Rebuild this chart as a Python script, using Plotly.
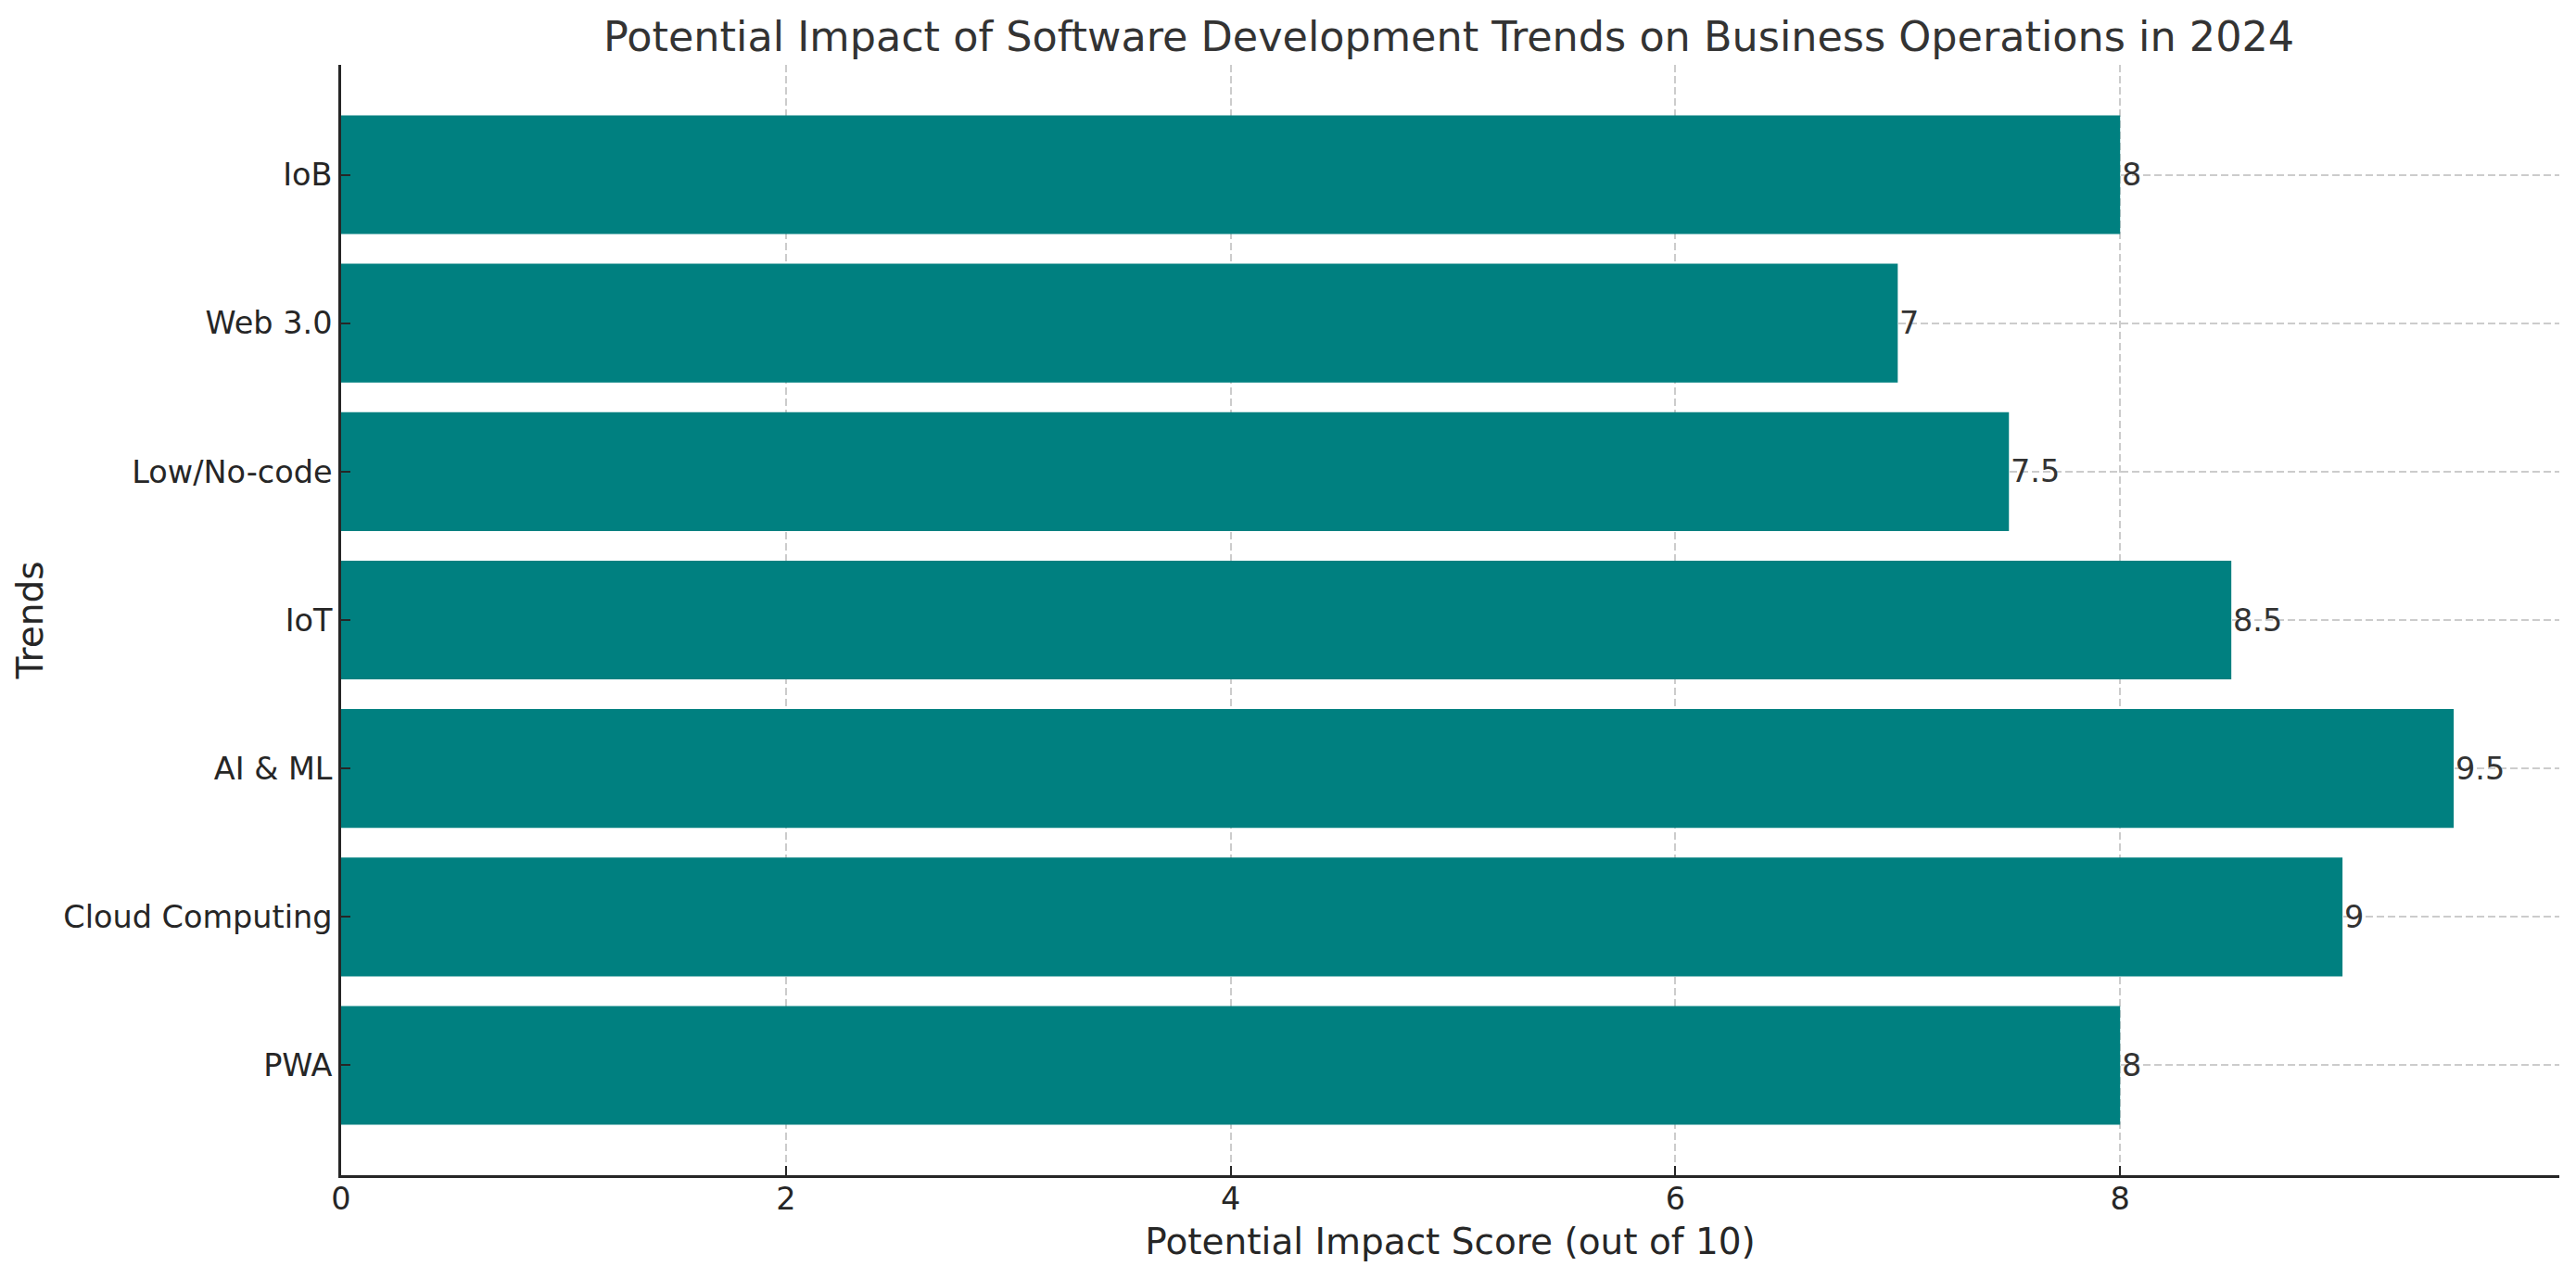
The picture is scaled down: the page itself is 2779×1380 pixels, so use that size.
import plotly.graph_objects as go

categories = ["PWA", "Cloud Computing", "AI & ML", "IoT", "Low/No-code", "Web 3.0", "IoB"]
scores = [8, 9, 9.5, 8.5, 7.5, 7, 8]
x_ticks = [0, 2, 4, 6, 8]

title_text = "Potential Impact of Software Development Trends on Business Operations in 2024"
x_title = "Potential Impact Score (out of 10)"
y_title = "Trends"

FONT = "DejaVu Sans"
BAR_COLOR = "#008080"
GRID = "rgba(128,128,128,0.4)"
AXIS = "#262626"

W, H = 2771, 1372

fig = go.Figure()
fig.add_trace(go.Bar(
    x=scores,
    y=categories,
    orientation="h",
    width=0.8,
    marker=dict(color=BAR_COLOR, line=dict(width=0)),
    hoverinfo="skip",
))

for c, v in zip(categories, scores):
    fig.add_annotation(
        x=v, y=c, text=f"{v:g}", showarrow=False,
        xanchor="left", yanchor="middle", xshift=0,
        font=dict(family=FONT, size=33.5, color="#333333"),
    )

fig.update_layout(
    width=W, height=H,
    margin=dict(l=360, r=18, t=62, b=112, autoexpand=False),
    paper_bgcolor="white", plot_bgcolor="white",
    showlegend=False,
    title=dict(
        text=title_text, x=0.5612, xanchor="center",
        y=1 - 47 / H, yanchor="bottom", yref="container",
        font=dict(family=FONT, size=44.5, color="#333333"),
        pad=dict(t=0, b=0),
    ),
    font=dict(family=FONT, color=AXIS),
)

fig.update_xaxes(
    range=[0, 9.975],
    tickvals=x_ticks,
    ticks="inside", ticklen=10, tickwidth=2, tickcolor=AXIS,
    showline=True, linecolor=AXIS, linewidth=2.5,
    showgrid=True, gridcolor=GRID, gridwidth=1.6, griddash="8px,4px",
    zeroline=False,
    tickfont=dict(family=FONT, size=33.5, color=AXIS),
    ticklabelstandoff=-6,
    title=dict(text=x_title, font=dict(family=FONT, size=39, color=AXIS), standoff=14),
    layer="above traces",
    automargin=False,
)
fig.update_yaxes(
    type="category",
    categoryorder="array", categoryarray=categories,
    range=[-0.74, 6.74],
    ticks="inside", ticklen=10, tickwidth=2, tickcolor=AXIS,
    showline=True, linecolor=AXIS, linewidth=2.5,
    showgrid=True, gridcolor=GRID, gridwidth=1.6, griddash="8px,4px",
    zeroline=False,
    tickfont=dict(family=FONT, size=33.5, color=AXIS),
    title=dict(text=y_title, font=dict(family=FONT, size=39, color=AXIS), standoff=10),
    layer="above traces",
    automargin=False,
)

fig.write_html("out.html")
